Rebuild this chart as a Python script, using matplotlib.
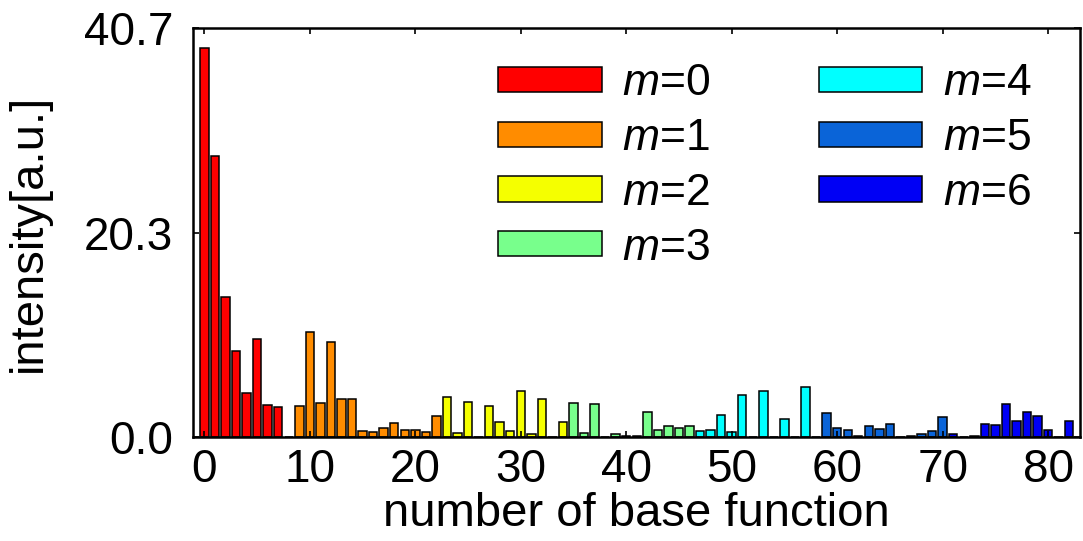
import numpy as np
import matplotlib
matplotlib.use('Agg')
from matplotlib import pyplot as plt

plt.rcParams['font.family'] = ['Liberation Sans', 'DejaVu Sans']
plt.rcParams['mathtext.fontset'] = 'custom'
plt.rcParams['mathtext.rm'] = 'Liberation Sans'
plt.rcParams['mathtext.it'] = 'Liberation Sans:italic'

# 각 m 그룹의 시작 인덱스와 강도 값
m_labels = ['$m$=0', '$m$=1', '$m$=2', '$m$=3', '$m$=4', '$m$=5', '$m$=6']
m_start = [0, 9, 23, 35, 47, 59, 71]
m0 = [38.7, 28.0, 13.9, 8.6, 4.4, 9.8, 3.2, 3.0, 0.0]
m1 = [3.1, 10.5, 3.4, 9.5, 3.8, 3.8, 0.6, 0.55, 0.9, 1.4, 0.7, 0.7, 0.5, 2.1]
m2 = [4.0, 0.4, 3.5, 0.0, 3.1, 1.5, 0.6, 4.6, 0.3, 3.75, 0.0, 1.5]
m3 = [3.35, 0.45, 3.3, 0.0, 0.35, 0.15, 0.15, 2.5, 0.75, 1.1, 0.95, 1.1]
m4 = [0.6, 0.75, 2.2, 0.5, 4.2, 0.0, 4.6, 0.0, 1.8, 0.0, 4.95, 0.0]
m5 = [2.4, 0.95, 0.75, 0.1, 1.1, 0.8, 1.3, 0.0, 0.1, 0.35, 0.6, 2.0]
m6 = [0.3, 0.05, 0.1, 1.35, 1.2, 3.3, 1.6, 2.55, 2.15, 0.75, 0.0, 1.6]
groups = [m0, m1, m2, m3, m4, m5, m6]
colors = ['#ff0000', '#ff8c00', '#f5ff00', '#78ff8c', '#00ffff', '#0a64d8', '#0000f5']

fig = plt.figure(figsize=(10.83, 5.41), dpi=100)
ax = fig.add_axes([0.178, 0.192, 0.819, 0.756])

for start, vals, c, lab in zip(m_start, groups, colors, m_labels):
    x = np.arange(start, start + len(vals))
    ax.bar(x, vals, width=0.8, color=c, edgecolor='black', linewidth=1.1, label=lab)

ax.set_xlim(-1.1, 83)
ax.set_ylim(0, 40.7)
ax.set_xticks(range(0, 81, 10))
ax.set_yticks([0, 20.3, 40.7])
ax.set_yticklabels(['0.0', '20.3', '40.7'])
ax.tick_params(direction='in', length=4, width=1.2, top=True, right=True,
               labelsize=33, pad=8)
ax.tick_params(axis='y', pad=14)
for s in ax.spines.values():
    s.set_linewidth(1.8)

ax.set_xlabel('number of base function', fontsize=34, labelpad=0)
ax.set_ylabel('intensity[a.u.]', fontsize=34, labelpad=24)

ax.legend(ncol=2, loc='upper right', bbox_to_anchor=(0.991, 1.012), frameon=False,
          fontsize=32, handlelength=2.32, handleheight=0.5,
          handletextpad=0.47, labelspacing=0.31, columnspacing=2.45,
          borderaxespad=0.5)

plt.savefig('out.png', dpi=100)
